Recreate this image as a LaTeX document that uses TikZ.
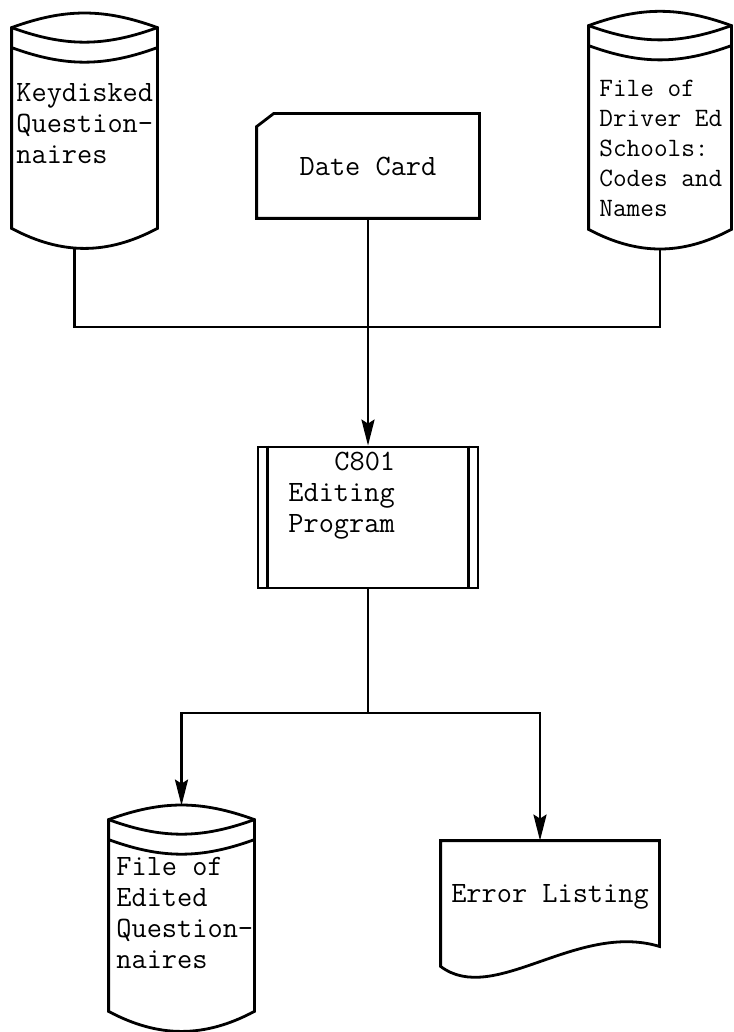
\documentclass[tikz,border=0pt]{standalone}
\usepackage{tikz}
\usetikzlibrary{arrows.meta}

\begin{document}
\begin{tikzpicture}[x=1pt,y=-1pt,line width=2.8pt,
    box/.style={inner sep=0pt},
    label text/.style={inner sep=0pt,align=left,font=\ttfamily\fontsize{29.5}{31}\selectfont},
    flow/.style={-{Stealth[length=26pt,width=13pt,inset=4pt]}}]
  \useasboundingbox (0,0) rectangle (733,1032);
  % stores, card, program and listing
  \node[box,minimum width=143pt,minimum height=232pt] (kq) at (84.5,131) {};
  \node[box,minimum width=140pt,minimum height=235pt] (dr) at (660,130.5) {};
  \node[box,minimum width=143pt,minimum height=223pt] (eq) at (181.5,918.5) {};
  \node[box,label text,align=center,minimum width=220pt,minimum height=102pt] (dc) at (368,166) {Date Card};
  \node[box,draw,minimum width=220pt,minimum height=141pt] (ed) at (368,517.5) {};
  \node[box,label text,align=center,minimum width=216pt,minimum height=110pt] (el) at (550,897) {Error Listing};
  \foreach \n in {kq,dr,eq} {
    \draw ([yshift=-14pt]\n.north west) to[bend left=20] ([yshift=-14pt]\n.north east)
      -- ([yshift=20pt]\n.south east) to[bend left=28] ([yshift=20pt]\n.south west) -- cycle;
    \draw ([yshift=-14pt]\n.north west) to[bend right=20] ([yshift=-14pt]\n.north east);
    \draw ([yshift=-34pt]\n.north west) to[bend right=20] ([yshift=-34pt]\n.north east);
  }
  \draw ([xshift=17pt]dc.north west) -- (dc.north east) -- (dc.south east)
    -- (dc.south west) -- ([yshift=-13pt]dc.north west) -- cycle;
  \draw ([xshift=11pt]ed.north west) -- ([xshift=11pt]ed.south west);
  \draw ([xshift=-11pt]ed.north east) -- ([xshift=-11pt]ed.south east);
  \draw (el.north west) -- (el.north east) -- ([yshift=7pt]el.south east)
    .. controls ([xshift=-83pt,yshift=32pt]el.south east) and ([xshift=53pt,yshift=-53pt]el.south west)
    .. ([yshift=-13pt]el.south west) -- cycle;
  % texts
  \node[label text,anchor=west] (kqtext) at (15,123.5) {Keydisked\\Question-\\naires};
  \node[label text,anchor=west,font=\ttfamily\fontsize{26.5}{30}\selectfont] (drtext) at (598,148)
    {File of\\Driver Ed\\Schools:\\Codes and\\Names};
  \node[label text,anchor=west] (edtext) at (287,495.5) {\hspace*{46pt}C801\\Editing\\Program};
  \node[label text,anchor=west] (eqtext) at (115,913) {File of\\Edited\\Question-\\naires};
  % flow lines
  \coordinate (j1) at (368,327);
  \coordinate (j2) at (368,713);
  \draw ([xshift=-10pt]kq.south) |- (j1) -| (dr.south);
  \draw[flow] (dc.south) -- (ed.north);
  \draw (ed.south) -- (j2);
  \draw[flow] (j2) -| (eq.north);
  \draw[flow] (j2) -| ([xshift=-10pt]el.north);
\end{tikzpicture}
\end{document}
